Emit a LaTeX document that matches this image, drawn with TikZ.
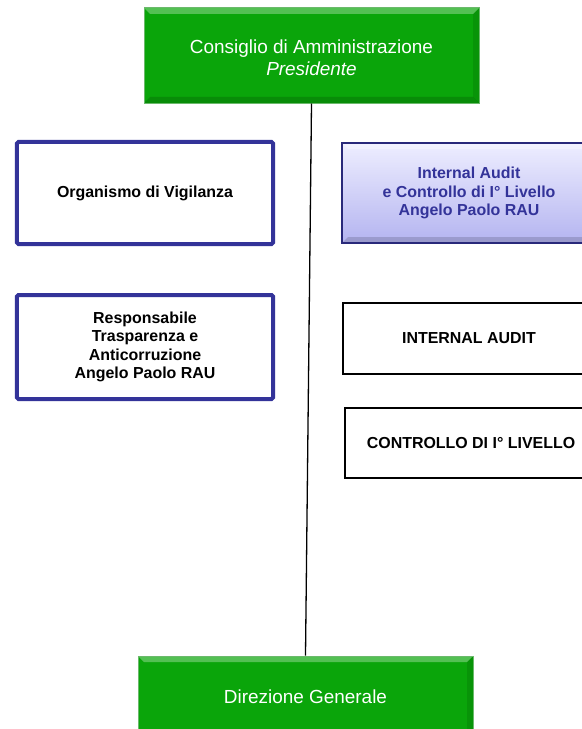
\documentclass[tikz,border=0pt]{standalone}
\usepackage{fontspec}
\setmainfont{Liberation Sans}
\usetikzlibrary{calc}
\definecolor{cdagreen}{HTML}{0AA50A}
\definecolor{edgegreen}{HTML}{088A08}
\definecolor{ovblue}{HTML}{333399}
\definecolor{lavtop}{HTML}{EEEEFF}
\definecolor{lavbot}{HTML}{B4B4F0}
\tikzset{
  bevel/.style={path picture={
    \fill[white,opacity=.3] (path picture bounding box.north west) -- (path picture bounding box.north east)
      -- ([xshift=-6bp,yshift=-6bp]path picture bounding box.north east) -- ([xshift=6bp,yshift=-6bp]path picture bounding box.north west) -- cycle;
    \fill[black,opacity=.15] (path picture bounding box.south west) -- (path picture bounding box.south east)
      -- ([xshift=-6bp,yshift=6bp]path picture bounding box.south east) -- ([xshift=6bp,yshift=6bp]path picture bounding box.south west) -- cycle;
    \fill[black,opacity=.1] (path picture bounding box.north east) -- (path picture bounding box.south east)
      -- ([xshift=-6bp,yshift=6bp]path picture bounding box.south east) -- ([xshift=-6bp,yshift=-6bp]path picture bounding box.north east) -- cycle;
  }},
  greenbox/.style={draw=edgegreen!60!white, line width=1bp, fill=cdagreen, bevel,
    text=white, align=center, font=\fontsize{19}{22.5}\selectfont, inner sep=0pt},
  bluebox/.style={draw=ovblue, line width=4bp, fill=white, rounded corners=1.5bp,
    align=center, font=\bfseries\fontsize{16}{18.5}\selectfont, inner sep=0pt},
  lavbox/.style={draw=ovblue!80!black, line width=2bp, top color=lavtop, bottom color=lavbot, bevel,
    text=ovblue, align=center, font=\bfseries\fontsize{16}{18.5}\selectfont, inner sep=0pt},
  plainbox/.style={draw=black, line width=1.2bp, fill=white,
    align=center, font=\bfseries\fontsize{16}{18.5}\selectfont, inner sep=0pt},
}
\begin{document}
\begin{tikzpicture}[x=1bp,y=-1bp]
    \useasboundingbox (0,0) rectangle (582,729); % page size
    \node[greenbox, minimum width=335bp, minimum height=95bp] (cda) at (311.5,55.5) {};
    \node[text=white, align=center, font=\fontsize{19}{22.5}\selectfont] (cdatext) at (cda.center) [yshift=-2.5bp]
        {Consiglio di Amministrazione\\\itshape Presidente};
    \node[greenbox, minimum width=335bp, minimum height=90bp] (dg) at (305.5,701)
        {\raisebox{8bp}{Direzione Generale}};
    \draw[line width=1.3bp] (cda.south) -- (dg.north); % main line
    % left column
    \node[bluebox, minimum width=256bp, minimum height=102bp] (ov) at (145,193)
        {Organismo di Vigilanza};
    \node[bluebox, minimum width=256bp, minimum height=104bp] (rt) at (145,347)
        {Responsabile\\Trasparenza e\\Anticorruzione\\Angelo Paolo RAU};
    % right column
    \node[lavbox, minimum width=254bp, minimum height=100bp] (ia) at (469,193)
        {Internal Audit\\e Controllo di I\textdegree{} Livello\\Angelo Paolo RAU};
    \node[plainbox, minimum width=252bp, minimum height=71bp] (iaa) at (469,338.5)
        {INTERNAL AUDIT};
    \node[plainbox, minimum width=252bp, minimum height=70bp] (ctl) at (471,443)
        {CONTROLLO DI I\textdegree{} LIVELLO};
\end{tikzpicture}
\end{document}
